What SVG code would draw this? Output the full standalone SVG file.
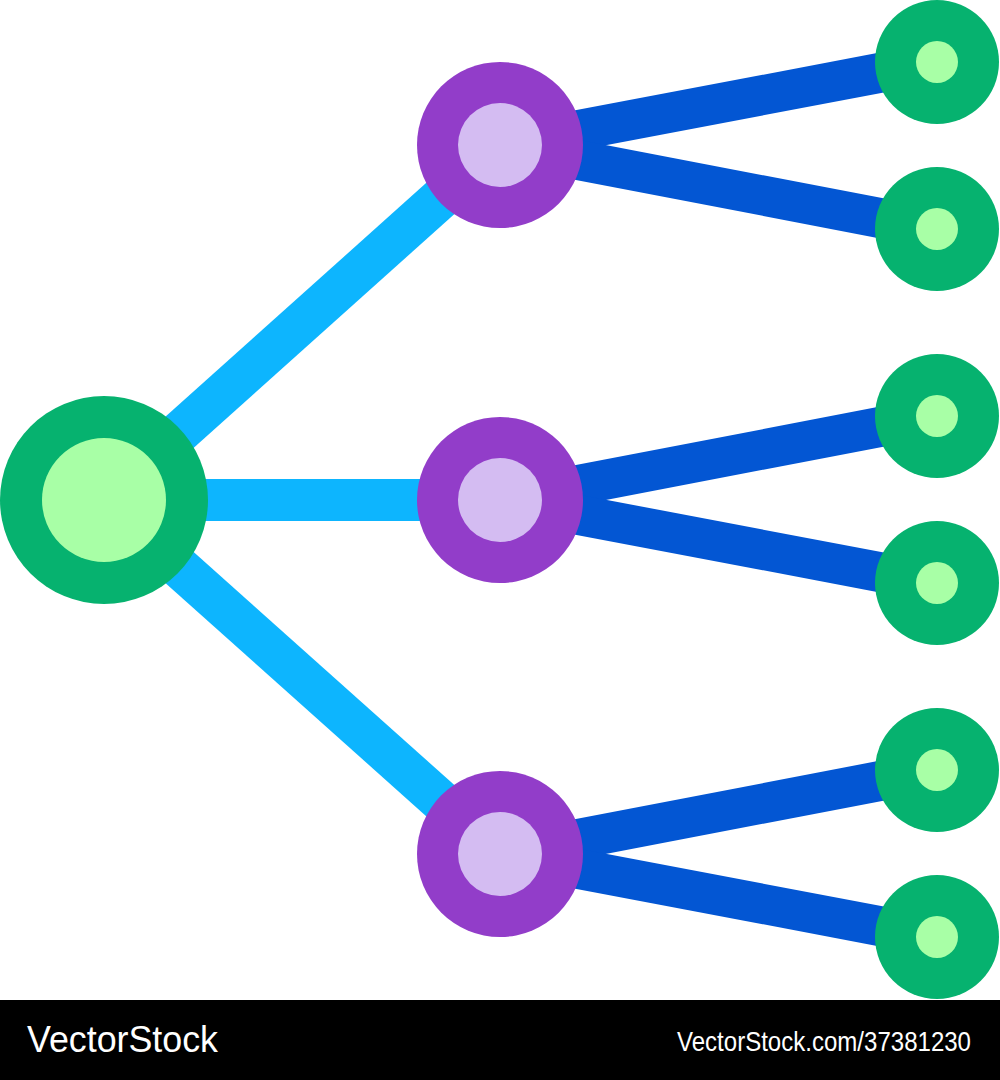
<svg xmlns="http://www.w3.org/2000/svg" width="1000" height="1080" viewBox="0 0 1000 1080">
  <style>
    .trunk { stroke: #0DB5FE; stroke-width: 42; fill: none; }
    .branch { stroke: #0356D3; stroke-width: 40; fill: none; }
    .root-out { fill: #06B26F; }
    .root-in { fill: #A8FFA6; }
    .mid-out { fill: #923DC9; }
    .mid-in { fill: #D4BCF2; }
    .leaf-out { fill: #06B26F; }
    .leaf-in { fill: #A8FFA6; }
    .wm { fill: #FFFFFF; font-family: "Liberation Sans", Arial, sans-serif; }
  </style>
  <rect width="1000" height="1080" fill="#FFFFFF"/>
  <g id="connectors">
    <line class="trunk" x1="104" y1="500" x2="500" y2="145"/>
    <line class="trunk" x1="104" y1="500" x2="500" y2="500"/>
    <line class="trunk" x1="104" y1="500" x2="500" y2="854"/>
    <line class="branch" x1="500" y1="145" x2="937" y2="62"/>
    <line class="branch" x1="500" y1="145" x2="937" y2="229"/>
    <line class="branch" x1="500" y1="500" x2="937" y2="416"/>
    <line class="branch" x1="500" y1="500" x2="937" y2="583"/>
    <line class="branch" x1="500" y1="854" x2="937" y2="770"/>
    <line class="branch" x1="500" y1="854" x2="937" y2="937"/>
  </g>
  <g id="root">
    <circle class="root-out" cx="104" cy="500" r="104"/>
    <circle class="root-in" cx="104" cy="500" r="62"/>
  </g>
  <g id="mid-1">
    <circle class="mid-out" cx="500" cy="145" r="83"/>
    <circle class="mid-in" cx="500" cy="145" r="42"/>
  </g>
  <g id="mid-2">
    <circle class="mid-out" cx="500" cy="500" r="83"/>
    <circle class="mid-in" cx="500" cy="500" r="42"/>
  </g>
  <g id="mid-3">
    <circle class="mid-out" cx="500" cy="854" r="83"/>
    <circle class="mid-in" cx="500" cy="854" r="42"/>
  </g>
  <g id="leaf-1">
    <circle class="leaf-out" cx="937" cy="62" r="62"/>
    <circle class="leaf-in" cx="937" cy="62" r="21"/>
  </g>
  <g id="leaf-2">
    <circle class="leaf-out" cx="937" cy="229" r="62"/>
    <circle class="leaf-in" cx="937" cy="229" r="21"/>
  </g>
  <g id="leaf-3">
    <circle class="leaf-out" cx="937" cy="416" r="62"/>
    <circle class="leaf-in" cx="937" cy="416" r="21"/>
  </g>
  <g id="leaf-4">
    <circle class="leaf-out" cx="937" cy="583" r="62"/>
    <circle class="leaf-in" cx="937" cy="583" r="21"/>
  </g>
  <g id="leaf-5">
    <circle class="leaf-out" cx="937" cy="770" r="62"/>
    <circle class="leaf-in" cx="937" cy="770" r="21"/>
  </g>
  <g id="leaf-6">
    <circle class="leaf-out" cx="937" cy="937" r="62"/>
    <circle class="leaf-in" cx="937" cy="937" r="21"/>
  </g>
  <g id="watermark">
    <rect x="0" y="1000" width="1000" height="80" fill="#000000"/>
    <text class="wm" x="27" y="1052" font-size="37" textLength="191" lengthAdjust="spacingAndGlyphs">VectorStock</text>
    <text class="wm" x="677" y="1051" font-size="28" textLength="294" lengthAdjust="spacingAndGlyphs">VectorStock.com/37381230</text>
  </g>
</svg>
